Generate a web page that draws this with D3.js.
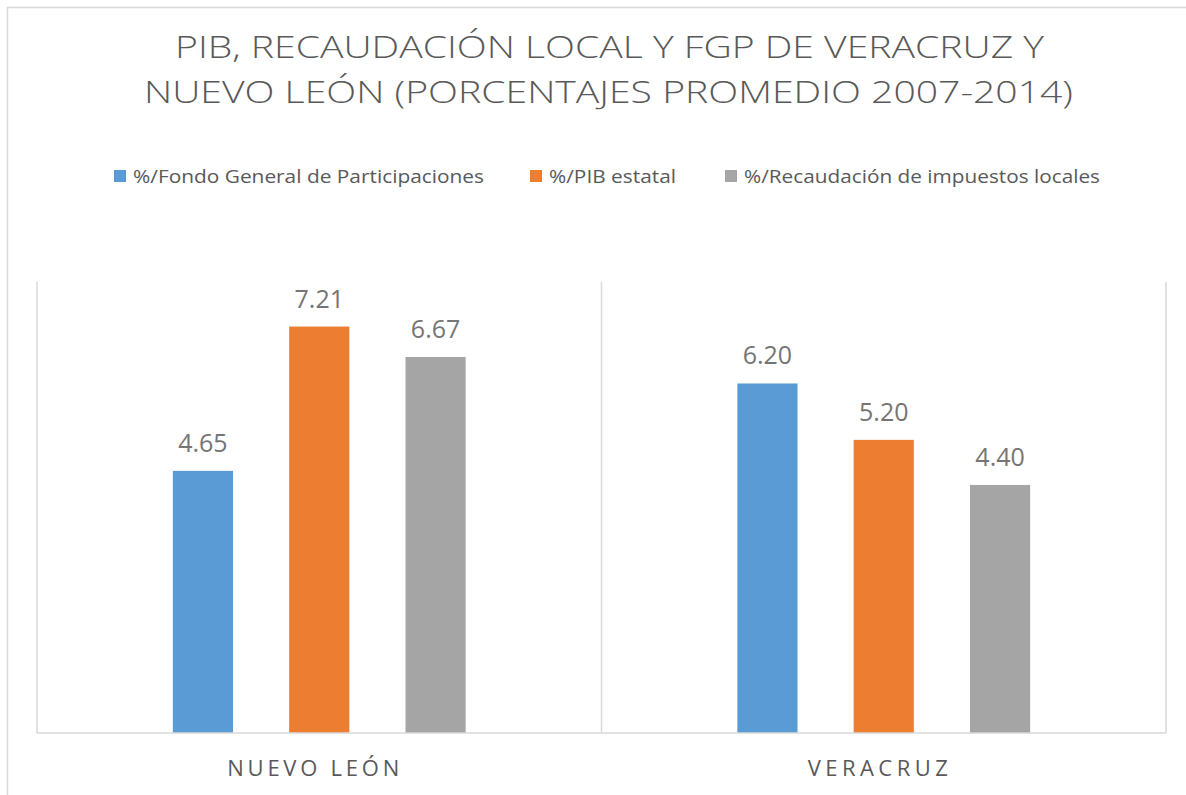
<!DOCTYPE html>
<html><head><meta charset="utf-8">
<script src="https://cdn.jsdelivr.net/npm/d3@7"></script>
<style>body{margin:0;background:#fff}svg{display:block}text{font-family:"Open Sans",sans-serif}</style>
</head><body><svg id="c" width="1186" height="795"></svg>
<script>
const categories = ["NUEVO LEÓN", "VERACRUZ"];
const seriesNames = ["%/Fondo General de Participaciones", "%/PIB estatal", "%/Recaudación de impuestos locales"];
const fondoValues = [4.65, 6.20];
const pibValues = [7.21, 5.20];
const recaudacionValues = [6.67, 4.40];
const valueLabels = [["4.65","7.21","6.67"],["6.20","5.20","4.40"]];
const titleLines = ["PIB, RECAUDACIÓN LOCAL Y FGP DE VERACRUZ Y", "NUEVO LEÓN (PORCENTAJES PROMEDIO 2007-2014)"];
const colors = ["#5b9bd5", "#ed7d31", "#a5a5a5"];

const seriesValues = [fondoValues, pibValues, recaudacionValues];
const svg = d3.select("#c");
const plot = {left: 37, right: 1166, top: 282, bottom: 733};

// outer chart border (extends past the image)
svg.append("path").attr("d", "M7.5,795 V7.5 H1186").attr("fill","none").attr("stroke","#d9d9d9").attr("stroke-width",1.5);

const x0 = d3.scaleBand().domain(categories).range([plot.left, plot.right]).padding(0);
const groupW = x0.bandwidth() * 0.5187;
const x1 = d3.scaleBand().domain(seriesNames).range([0, groupW]).paddingInner(0.4828).paddingOuter(0);
const y = d3.scaleLinear().domain([0, 8]).range([plot.bottom, plot.top]);

// category separator lines
const seps = [plot.left, ...categories.map(c => x0(c) + x0.bandwidth())];
svg.selectAll("line.sep").data(seps).enter().append("line")
  .attr("x1", d => d).attr("x2", d => d).attr("y1", plot.top).attr("y2", plot.bottom)
  .attr("stroke", "#d9d9d9").attr("stroke-width", 1.5);

// bars
const data = [];
categories.forEach((c, ci) => seriesNames.forEach((s, si) => data.push({c, s, si, v: seriesValues[si][ci], label: valueLabels[ci][si]})));
const gx = c => x0(c) + (x0.bandwidth() - groupW) / 2;
svg.selectAll("rect.bar").data(data).enter().append("rect")
  .attr("x", d => gx(d.c) + x1(d.s)).attr("width", x1.bandwidth())
  .attr("y", d => y(d.v)).attr("height", d => y(0) - y(d.v))
  .attr("fill", d => colors[d.si]);

svg.selectAll("text.val").data(data).enter().append("text")
  .attr("x", d => gx(d.c) + x1(d.s) + x1.bandwidth()/2).attr("y", d => y(d.v) - 19)
  .attr("text-anchor", "middle").attr("font-size", 25).attr("fill", "#757575")
  .text(d => d.label);

// x axis baseline
svg.append("line").attr("x1", plot.left).attr("x2", plot.right).attr("y1", plot.bottom).attr("y2", plot.bottom)
  .attr("stroke", "#d9d9d9").attr("stroke-width", 1.5);

// category labels
const catWidths = [172, 140];
svg.selectAll("text.cat").data(categories).enter().append("text")
  .attr("x", (d, i) => x0(d) + x0.bandwidth()/2 - 6 - catWidths[i]/2).attr("y", 776)
  .attr("font-size", 22).attr("fill", "#595959")
  .attr("textLength", (d, i) => catWidths[i]).attr("lengthAdjust", "spacing")
  .text(d => d);

// title
const titleSpans = [[175, 1044], [144, 1073]];
svg.selectAll("text.title").data(titleLines).enter().append("text")
  .attr("x", (d, i) => titleSpans[i][0]).attr("y", (d, i) => i === 0 ? 58 : 103)
  .attr("font-size", 32).attr("font-weight", 300).attr("fill", "#595959")
  .attr("textLength", (d, i) => titleSpans[i][1] - titleSpans[i][0]).attr("lengthAdjust", "spacingAndGlyphs")
  .text(d => d);

// legend
const legendX = [114, 530, 725];
const legendW = [351, 127, 356];
const lg = svg.selectAll("g.leg").data(seriesNames).enter().append("g")
  .attr("transform", (d, i) => `translate(${legendX[i]},0)`);
lg.append("rect").attr("x", 0).attr("y", 170).attr("width", 12).attr("height", 12).attr("fill", (d, i) => colors[i]);
lg.append("text").attr("x", 19).attr("y", 183).attr("font-size", 18).attr("fill", "#595959")
  .attr("textLength", (d, i) => legendW[i]).attr("lengthAdjust", "spacingAndGlyphs")
  .text(d => d);
</script></body></html>
